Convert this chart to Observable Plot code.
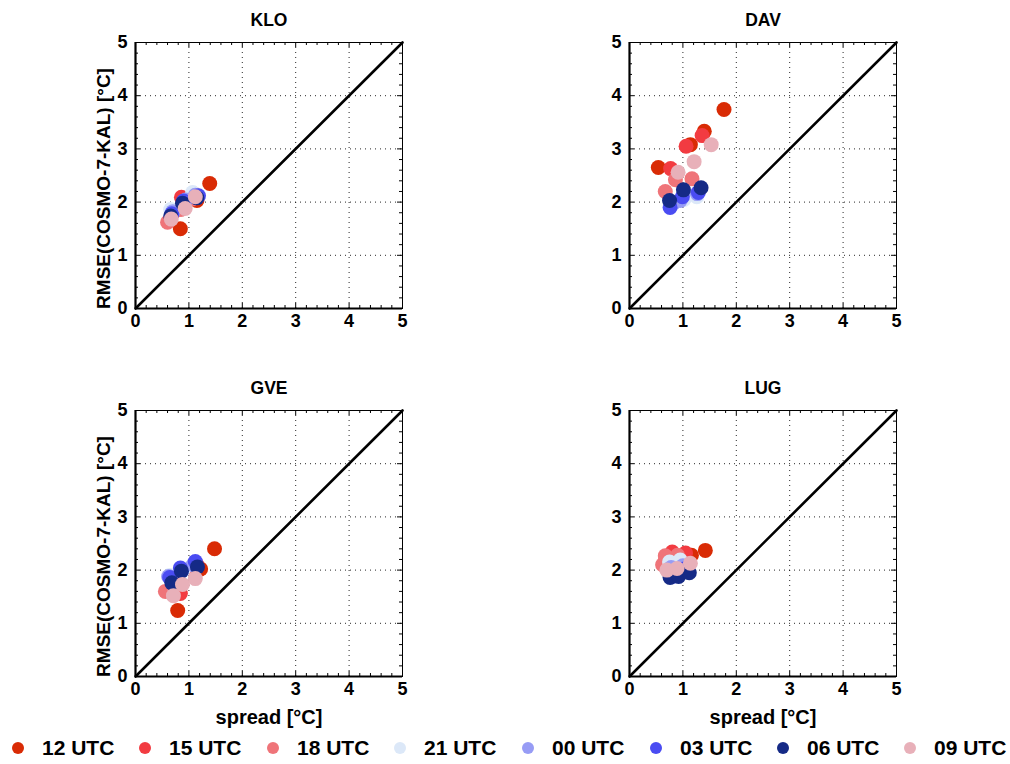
<!DOCTYPE html>
<html>
<head>
<meta charset="utf-8">
<script src="https://cdn.jsdelivr.net/npm/d3@7"></script>
<script src="https://cdn.jsdelivr.net/npm/@observablehq/plot@0.6"></script>
<style>
  html, body { margin: 0; padding: 0; background: white; }
  #fig { position: relative; width: 1010px; height: 764px; font-family: "Liberation Sans", Arial, sans-serif; font-weight: bold; }
  .panel { position: absolute; }
  .legend-item { position: absolute; top: 736px; height: 24px; display: flex; align-items: center; font-size: 21px; font-weight: bold; color: #000; white-space: nowrap; }
  .legend-dot { width: 12px; height: 12px; border-radius: 50%; margin-right: 18px; }
</style>
</head>
<body>
<div id="fig"></div>
<script>
// ---- data ----
const series = ["12 UTC", "15 UTC", "18 UTC", "21 UTC", "00 UTC", "03 UTC", "06 UTC", "09 UTC"];
const colors = ["#d92b05", "#f23b41", "#ef7479", "#dce8f8", "#979cf5", "#4a4cf2", "#152a86", "#e8b0b9"];
const stations = ["KLO", "DAV", "GVE", "LUG"];
const ticks = [0, 1, 2, 3, 4, 5];
const minorTicks = [0.2,0.4,0.6,0.8,1.2,1.4,1.6,1.8,2.2,2.4,2.6,2.8,3.2,3.4,3.6,3.8,4.2,4.4,4.6,4.8];
const diagonal = [0, 5];

// [series, spread, RMSE]
const KLO = [
  ["12 UTC",0.84,1.50],["12 UTC",1.15,2.03],["12 UTC",1.39,2.35],
  ["15 UTC",0.86,2.09],["15 UTC",0.72,1.82],["15 UTC",1.10,2.15],
  ["18 UTC",0.60,1.62],["18 UTC",0.85,1.86],["18 UTC",1.06,2.06],
  ["21 UTC",0.66,1.86],["21 UTC",0.90,2.00],["21 UTC",1.07,2.18],
  ["00 UTC",0.70,1.82],["00 UTC",0.94,2.04],["00 UTC",1.12,2.13],
  ["03 UTC",0.68,1.78],["03 UTC",0.90,2.02],["03 UTC",1.18,2.12],
  ["06 UTC",0.66,1.74],["06 UTC",0.88,1.98],["06 UTC",1.15,2.08],
  ["09 UTC",0.67,1.68],["09 UTC",0.93,1.88],["09 UTC",1.12,2.10]
];
const DAV = [
  ["12 UTC",0.54,2.65],["12 UTC",1.14,3.08],["12 UTC",1.40,3.33],["12 UTC",1.77,3.74],
  ["15 UTC",0.77,2.63],["15 UTC",1.06,3.05],["15 UTC",1.36,3.25],
  ["18 UTC",0.67,2.20],["18 UTC",0.86,2.42],["18 UTC",1.17,2.44],
  ["21 UTC",0.76,1.93],["21 UTC",1.02,2.05],["21 UTC",1.26,2.10],
  ["00 UTC",0.82,1.98],["00 UTC",0.95,2.03],["00 UTC",1.27,2.16],
  ["03 UTC",0.76,1.90],["03 UTC",0.99,2.10],["03 UTC",1.29,2.18],
  ["06 UTC",0.75,2.03],["06 UTC",1.01,2.23],["06 UTC",1.34,2.27],
  ["09 UTC",0.91,2.56],["09 UTC",1.21,2.76],["09 UTC",1.53,3.08]
];
const GVE = [
  ["12 UTC",0.79,1.24],["12 UTC",1.22,2.02],["12 UTC",1.48,2.40],
  ["15 UTC",0.84,1.56],["15 UTC",0.66,1.62],["15 UTC",1.15,2.10],
  ["18 UTC",0.56,1.60],["18 UTC",0.78,1.86],["18 UTC",1.05,2.05],
  ["21 UTC",0.64,1.90],["21 UTC",0.90,2.02],["21 UTC",1.10,2.12],
  ["00 UTC",0.62,1.88],["00 UTC",0.86,1.98],["00 UTC",1.08,2.10],
  ["03 UTC",0.64,1.86],["03 UTC",0.84,2.04],["03 UTC",1.12,2.16],
  ["06 UTC",0.68,1.76],["06 UTC",0.86,1.98],["06 UTC",1.16,2.06],
  ["09 UTC",0.71,1.52],["09 UTC",0.88,1.73],["09 UTC",1.12,1.84]
];
const LUG = [
  ["12 UTC",0.95,2.22],["12 UTC",1.16,2.28],["12 UTC",1.42,2.37],
  ["15 UTC",0.68,2.20],["15 UTC",0.80,2.34],["15 UTC",1.05,2.32],
  ["18 UTC",0.62,2.10],["18 UTC",0.67,2.27],["18 UTC",0.90,2.28],
  ["21 UTC",0.75,2.15],["21 UTC",0.95,2.19],["21 UTC",1.05,2.10],
  ["00 UTC",0.78,2.05],["00 UTC",0.90,2.00],["00 UTC",1.00,2.08],
  ["03 UTC",0.80,1.88],["03 UTC",0.88,1.98],["03 UTC",1.02,2.02],
  ["06 UTC",0.76,1.86],["06 UTC",0.92,1.88],["06 UTC",1.12,1.95],
  ["09 UTC",0.70,2.00],["09 UTC",0.89,2.03],["09 UTC",1.14,2.13]
];
const stationData = {KLO, DAV, GVE, LUG};

// ---- layout ----
const frameW = 267, frameH = 266;
const mL = 45, mT = 42, mR = 10, mB = 58;
const areaLeft = [135, 629];
const areaTop = [42, 410];
const fig = document.getElementById("fig");

stations.forEach((name, i) => {
  const col = i % 2, row = Math.floor(i / 2);
  const rows = stationData[name].map(([s, x, y]) => ({series: s, spread: x, rmse: y}));
  const marks = [
    Plot.gridX({ticks: [1, 2, 3, 4], stroke: "#000", strokeOpacity: 0.85, strokeWidth: 1, strokeDasharray: "1,4"}),
    Plot.gridY({ticks: [1, 2, 3, 4], stroke: "#000", strokeOpacity: 0.85, strokeWidth: 1, strokeDasharray: "1,4"}),
    // inward minor and major ticks on all four sides
    Plot.tickX(minorTicks, {x: d => d, insetTop: frameH - 3, stroke: "#000"}),
    Plot.tickX(minorTicks, {x: d => d, insetBottom: frameH - 3, stroke: "#000"}),
    Plot.tickY(minorTicks, {y: d => d, insetRight: frameW - 3, stroke: "#000"}),
    Plot.tickY(minorTicks, {y: d => d, insetLeft: frameW - 3, stroke: "#000"}),
    Plot.tickX(ticks, {x: d => d, insetTop: frameH - 5, stroke: "#000"}),
    Plot.tickX(ticks, {x: d => d, insetBottom: frameH - 5, stroke: "#000"}),
    Plot.tickY(ticks, {y: d => d, insetRight: frameW - 5, stroke: "#000"}),
    Plot.tickY(ticks, {y: d => d, insetLeft: frameW - 5, stroke: "#000"}),
    Plot.frame({stroke: "#000", strokeWidth: 1}),
    Plot.ruleX([0], {stroke: "#000", strokeWidth: 2.2}),
    Plot.ruleY([0], {stroke: "#000", strokeWidth: 2.2}),
    Plot.line(diagonal, {x: d => d, y: d => d, stroke: "#000", strokeWidth: 2.6}),
    Plot.dot(rows, {x: "spread", y: "rmse", fill: "series", r: 7.5}),
    Plot.axisX({ticks, tickSize: 0, tickPadding: 6, label: null, fontSize: 18, fontWeight: "bold", tickFormat: d3.format("d")}),
    Plot.axisY({ticks, tickSize: 0, tickPadding: 8, label: null, fontSize: 18, fontWeight: "bold", tickFormat: d3.format("d")}),
    Plot.text([name], {frameAnchor: "top", dy: -22, text: d => d, fontSize: 17.5, fontWeight: "bold", fill: "#000", lineAnchor: "middle"})
  ];
  if (col === 0) {
    marks.push(Plot.text(["RMSE(COSMO-7-KAL) [°C]"], {frameAnchor: "left", dx: -32, dy: 13, rotate: -90, textAnchor: "middle", text: d => d, fontSize: 19, fontWeight: "bold", fill: "#000", lineAnchor: "middle"}));
  }
  if (row === 1) {
    marks.push(Plot.text(["spread [°C]"], {frameAnchor: "bottom", dy: 41, text: d => d, fontSize: 20, fontWeight: "bold", fill: "#000", lineAnchor: "middle"}));
  }
  const chart = Plot.plot({
    width: mL + frameW + mR,
    height: mT + frameH + mB,
    marginLeft: mL, marginTop: mT, marginRight: mR, marginBottom: mB,
    x: {domain: [0, 5]},
    y: {domain: [0, 5]},
    color: {domain: series, range: colors},
    style: {fontFamily: "Liberation Sans, Arial, sans-serif", color: "#000", background: "transparent", overflow: "visible"},
    marks
  });
  const div = document.createElement("div");
  div.className = "panel";
  div.style.left = (areaLeft[col] - mL) + "px";
  div.style.top = (areaTop[row] - mT) + "px";
  div.appendChild(chart);
  fig.appendChild(div);
});

// ---- legend ----
const legendX = [12, 139, 267, 394, 522, 650, 777, 904];
series.forEach((s, i) => {
  const item = document.createElement("div");
  item.className = "legend-item";
  item.style.left = legendX[i] + "px";
  const dot = document.createElement("span");
  dot.className = "legend-dot";
  dot.style.background = colors[i];
  item.appendChild(dot);
  item.appendChild(document.createTextNode(s));
  fig.appendChild(item);
});
</script>
</body>
</html>
